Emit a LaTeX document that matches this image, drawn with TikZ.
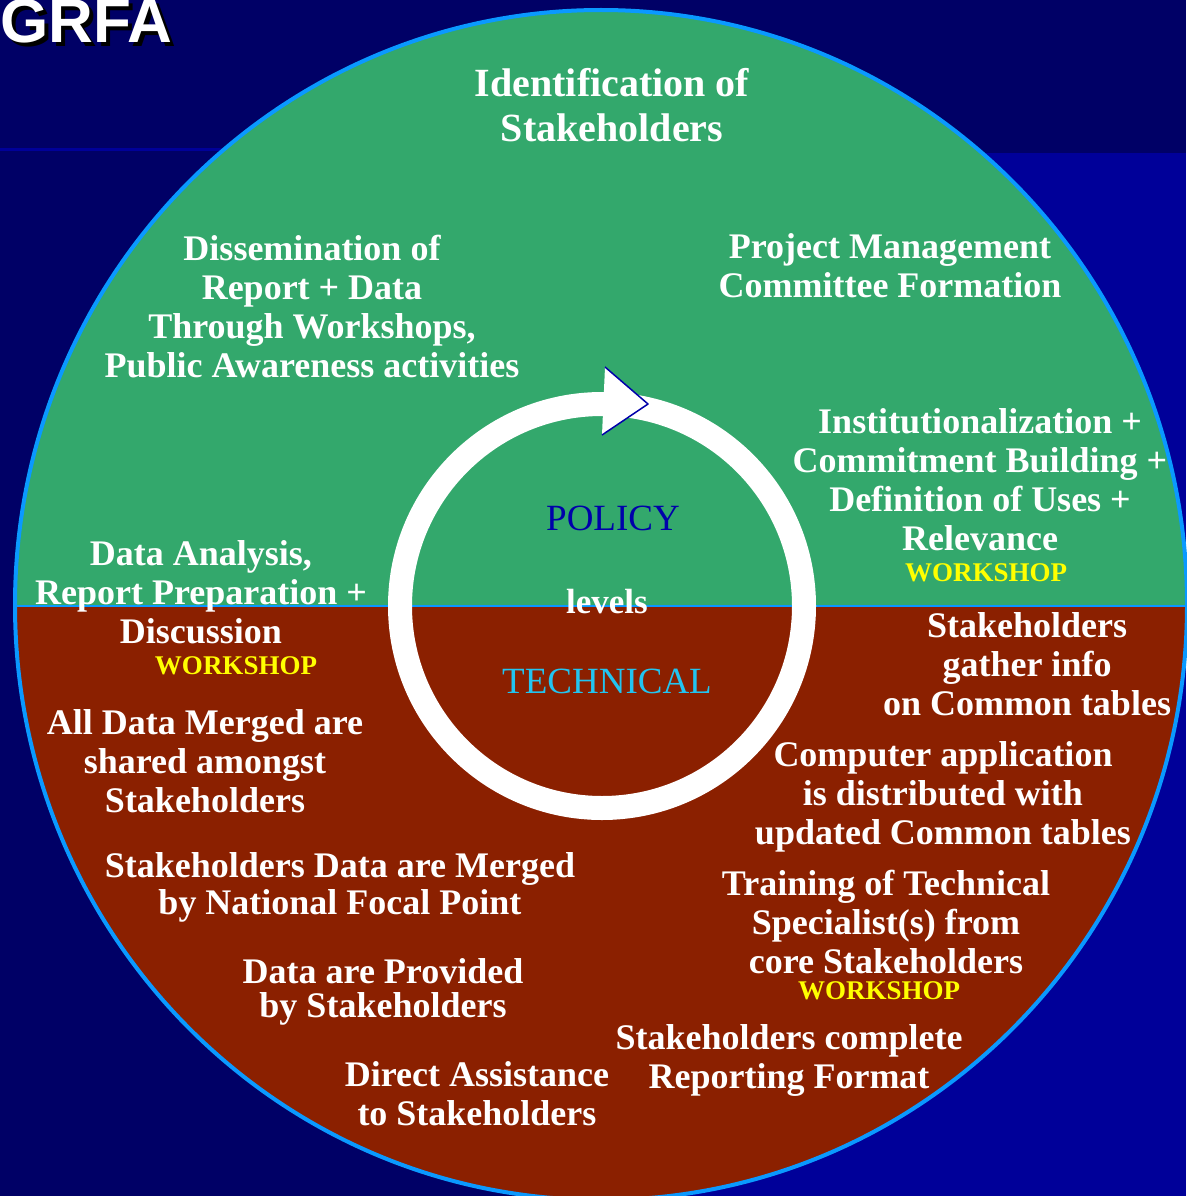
\documentclass[tikz,border=0pt]{standalone}
\usepackage{fontspec}
\setmainfont{Liberation Serif}
\newfontfamily\grfafont{Liberation Sans}
\definecolor{navy}{HTML}{000066}
\definecolor{midblue}{HTML}{000099}
\definecolor{grn}{HTML}{33A86C}
\definecolor{rust}{HTML}{8B2000}
\definecolor{rim}{HTML}{0A99FF}
\definecolor{polblue}{HTML}{0000AA}
\definecolor{techcyan}{HTML}{22C4F0}
\definecolor{wsyellow}{HTML}{FFFF00}
\tikzset{
  txt/.style={text=white, align=center, inner sep=0pt, font=\fontsize{36}{39}\selectfont\bfseries},
  bigtxt/.style={text=white, align=center, inner sep=0pt, font=\fontsize{40}{45}\selectfont\bfseries},
  wshop/.style={text=wsyellow, inner sep=0pt, font=\fontsize{27}{30}\selectfont\bfseries},
  lvl/.style={inner sep=0pt, font=\fontsize{37}{40}\selectfont},
  grfastyle/.style={anchor=base west, inner sep=0pt, font=\grfafont\fontsize{62}{64}\selectfont\bfseries},
}
\begin{document}
\begin{tikzpicture}[x=1pt,y=-1pt]
\useasboundingbox (0,0) rectangle (1186,1196);
% background
\fill[navy] (0,0) rectangle (1186,1196);
\fill[midblue] (600,153) rectangle (1186,1196);
\fill[midblue] (0,148) rectangle (600,151);
% big disc
\begin{scope}
  \clip (601,605) ellipse [x radius=586pt, y radius=595pt];
  \fill[grn] (0,0) rectangle (1186,606);
  \fill[rust] (0,606) rectangle (1186,1210);
  \draw[rim, line width=2pt] (0,606) -- (1190,606);
\end{scope}
\draw[rim, line width=4pt] (601,605) ellipse [x radius=586pt, y radius=595pt];
% cycle ring with arrow
\coordinate (ringc) at (602,606);
\draw[white, line width=24pt] (ringc) circle [radius=202pt];
\coordinate (ahtop) at (605,367);
\coordinate (ahtip) at (648,404);
\coordinate (ahbot) at (602,435);
\fill[white] (ahtop) -- (ahtip) -- (ahbot) -- cycle;
\draw[polblue, line width=1.5pt, line join=round] (ahtop) -- (ahtip) -- (ahbot);
% title with drop shadow
\node[grfastyle, text=black] (grfashadow) at (4,47) {GRFA};
\node[grfastyle, text=white] (grfa) at (0,43) {GRFA};
% centre labels
\node[lvl, text=polblue] (policy) at (613,518) {POLICY};
\node[txt, font=\fontsize{35}{38}\selectfont\bfseries] (levels) at (607,602) {levels};
\node[lvl, text=techcyan] (technical) at (607,681) {TECHNICAL};
% stages
\node[bigtxt] (ident) at (612,105) {Identification of\\Stakeholders};
\node[txt] (pmc) at (890,266) {Project Management\\Committee Formation};
\node[txt] (instit) at (980,480) {Institutionalization +\\Commitment Building +\\Definition of Uses +\\Relevance};
\node[wshop] (ws1) at (986,573) {WORKSHOP};
\node[txt] (gather) at (1027,664) {Stakeholders\\gather info\\on Common tables};
\node[txt] (computer) at (943,797) {Computer application\\is distributed with\\updated Common tables};
\node[txt] (training) at (886,922) {Training of Technical\\Specialist(s) from\\core Stakeholders};
\node[wshop] (ws2) at (879,991) {WORKSHOP};
\node[txt] (complete) at (789,1060) {Stakeholders complete\\Reporting Format};
\node[txt] (direct) at (477,1094) {Direct Assistance\\to Stakeholders};
\node[txt, font=\fontsize{36}{34}\selectfont\bfseries] (provided) at (383,992) {Data are Provided\\by Stakeholders};
\node[txt, font=\fontsize{36}{37}\selectfont\bfseries] (merged) at (340,887) {Stakeholders Data are Merged\\by National Focal Point};
\node[txt] (shared) at (205,761) {All Data Merged are\\shared amongst\\Stakeholders};
\node[txt] (analysis) at (201,592) {Data Analysis,\\Report Preparation +\\Discussion};
\node[wshop] (ws3) at (236,666) {WORKSHOP};
\node[txt] (dissem) at (312,307) {Dissemination of\\Report + Data\\Through Workshops,\\Public Awareness activities};
\end{tikzpicture}
\end{document}
